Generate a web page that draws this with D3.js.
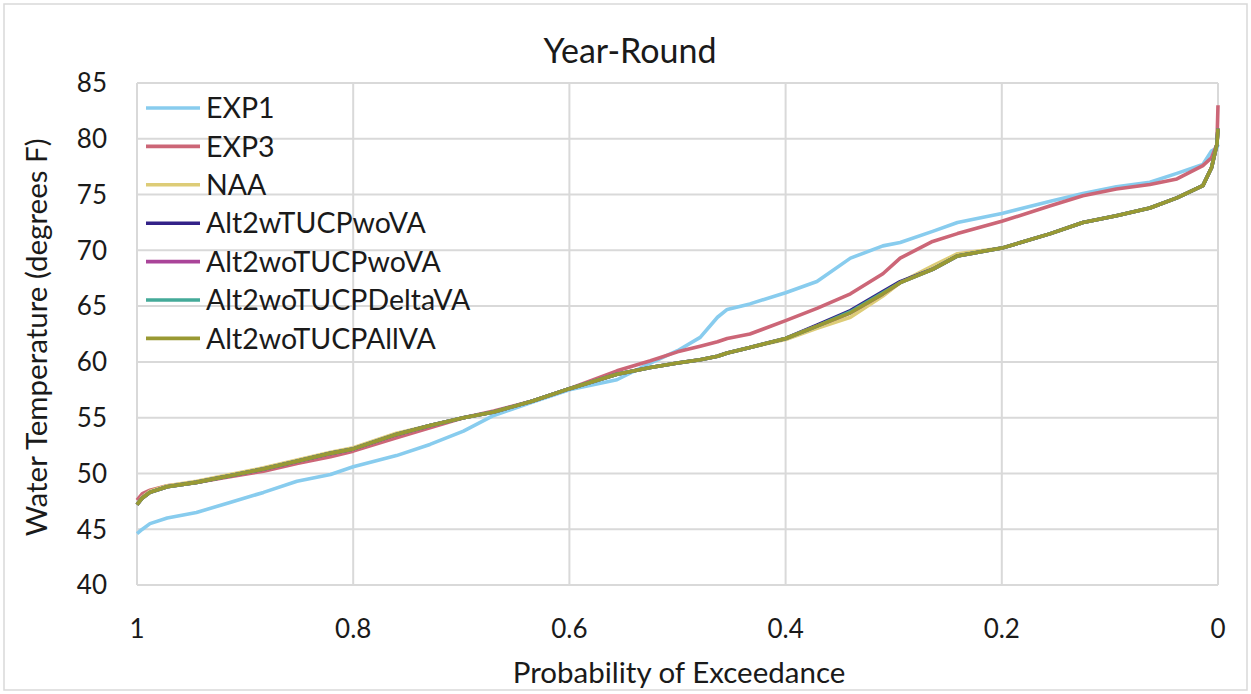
<!DOCTYPE html>
<html>
<head>
<meta charset="utf-8">
<script src="https://cdn.jsdelivr.net/npm/d3@7"></script>
<style>
  body { margin: 0; background: #fff; }
  svg { display: block; font-family: Lato, "Open Sans", sans-serif; }
</style>
</head>
<body>
<svg id="chart" width="1251" height="694"></svg>
<script>
// exceedance probabilities shared by every series
var probs = [1, 0.995, 0.988, 0.972, 0.945, 0.914, 0.883, 0.852, 0.821, 0.8, 0.76, 0.729, 0.698, 0.67, 0.634, 0.6,
  0.556, 0.525, 0.5, 0.479, 0.463, 0.454, 0.433, 0.4, 0.371, 0.34, 0.31, 0.294, 0.264, 0.241, 0.2, 0.155, 0.125,
  0.094, 0.063, 0.038, 0.014, 0.006, 0.001, 0];

var exp1 = [44.6, 45.0, 45.5, 46.0, 46.5, 47.4, 48.3, 49.3, 49.9, 50.6, 51.6, 52.6, 53.8, 55.2, 56.4, 57.5,
  58.4, 59.9, 61.0, 62.2, 64.0, 64.7, 65.2, 66.2, 67.2, 69.3, 70.4, 70.7, 71.7, 72.5, 73.3, 74.4, 75.1,
  75.7, 76.1, 76.9, 77.7, 78.9, 79.2, 79.5];
var exp3 = [47.6, 48.2, 48.5, 48.9, 49.2, 49.7, 50.2, 50.9, 51.5, 52.0, 53.2, 54.1, 55.0, 55.6, 56.5, 57.6,
  59.2, 60.1, 60.9, 61.4, 61.8, 62.1, 62.5, 63.7, 64.8, 66.1, 67.9, 69.3, 70.8, 71.5, 72.6, 74.0, 74.9,
  75.5, 75.9, 76.4, 77.6, 78.3, 79.5, 83.0];
var naa = [47.2, 47.9, 48.4, 48.9, 49.3, 49.9, 50.5, 51.2, 51.9, 52.3, 53.6, 54.3, 55.0, 55.5, 56.5, 57.6,
  58.9, 59.5, 59.9, 60.2, 60.5, 60.8, 61.3, 62.0, 63.0, 64.0, 65.9, 67.1, 68.6, 69.7, 70.2, 71.5, 72.5,
  73.1, 73.8, 74.7, 75.8, 77.4, 79.5, 80.9];
var alt2wTUCPwoVA = [47.2, 47.8, 48.3, 48.8, 49.2, 49.8, 50.4, 51.1, 51.8, 52.2, 53.5, 54.3, 55.0, 55.5, 56.5, 57.6,
  58.9, 59.5, 59.9, 60.2, 60.5, 60.8, 61.3, 62.1, 63.3, 64.6, 66.3, 67.2, 68.3, 69.5, 70.2, 71.5, 72.5,
  73.1, 73.8, 74.7, 75.8, 77.4, 79.5, 80.9];
var alt2woTUCPwoVA = [47.2, 47.8, 48.3, 48.8, 49.2, 49.8, 50.4, 51.1, 51.8, 52.2, 53.5, 54.3, 55.0, 55.5, 56.5, 57.6,
  58.9, 59.5, 59.9, 60.2, 60.5, 60.8, 61.3, 62.1, 63.2, 64.4, 66.1, 67.1, 68.3, 69.5, 70.2, 71.5, 72.5,
  73.1, 73.8, 74.7, 75.8, 77.4, 79.5, 80.9];
var alt2woTUCPDeltaVA = [47.2, 47.8, 48.3, 48.8, 49.2, 49.8, 50.4, 51.1, 51.8, 52.2, 53.5, 54.3, 55.0, 55.5, 56.5, 57.6,
  58.9, 59.5, 59.9, 60.2, 60.5, 60.8, 61.3, 62.1, 63.2, 64.5, 66.2, 67.1, 68.3, 69.5, 70.2, 71.5, 72.5,
  73.1, 73.8, 74.7, 75.8, 77.4, 79.5, 80.9];
var alt2woTUCPAllVA = [47.2, 47.8, 48.3, 48.8, 49.2, 49.8, 50.4, 51.1, 51.8, 52.2, 53.5, 54.3, 55.0, 55.5, 56.5, 57.6,
  58.9, 59.5, 59.9, 60.2, 60.5, 60.8, 61.3, 62.1, 63.2, 64.4, 66.1, 67.1, 68.3, 69.5, 70.2, 71.5, 72.5,
  73.1, 73.8, 74.7, 75.8, 77.4, 79.5, 80.9];

var seriesNames = ["EXP1", "EXP3", "NAA", "Alt2wTUCPwoVA", "Alt2woTUCPwoVA", "Alt2woTUCPDeltaVA", "Alt2woTUCPAllVA"];
var seriesValues = [exp1, exp3, naa, alt2wTUCPwoVA, alt2woTUCPwoVA, alt2woTUCPDeltaVA, alt2woTUCPAllVA];
var colors = ["#88CCEE", "#CC6677", "#DDCC77", "#332288", "#AA4499", "#44AA99", "#999933"];

var xTicks = [1, 0.8, 0.6, 0.4, 0.2, 0];
var yTicks = [40, 45, 50, 55, 60, 65, 70, 75, 80, 85];

var svg = d3.select("#chart");

// outer chart border
svg.append("rect")
  .attr("x", 4).attr("y", 4)
  .attr("width", 1243).attr("height", 686)
  .attr("fill", "none")
  .attr("stroke", "#d9d9d9")
  .attr("stroke-width", 1.5);

var x = d3.scaleLinear().domain([1, 0]).range([137, 1218]);
var y = d3.scaleLinear().domain([40, 85]).range([585, 83]);

// gridlines
svg.append("g").selectAll("line")
  .data(yTicks).enter().append("line")
  .attr("x1", x(1)).attr("x2", x(0))
  .attr("y1", function (d) { return y(d); })
  .attr("y2", function (d) { return y(d); })
  .attr("stroke", "#d9d9d9").attr("stroke-width", 2);

svg.append("g").selectAll("line")
  .data(xTicks).enter().append("line")
  .attr("x1", function (d) { return x(d); })
  .attr("x2", function (d) { return x(d); })
  .attr("y1", y(85)).attr("y2", y(40))
  .attr("stroke", "#d9d9d9").attr("stroke-width", 2);

// tick labels
svg.append("g").selectAll("text")
  .data(yTicks).enter().append("text")
  .attr("x", 107)
  .attr("y", function (d) { return y(d); })
  .attr("dy", "0.36em")
  .attr("text-anchor", "end")
  .attr("font-size", 26)
  .attr("fill", "#1a1a1a")
  .text(function (d) { return d; });

svg.append("g").selectAll("text")
  .data(xTicks).enter().append("text")
  .attr("x", function (d) { return x(d); })
  .attr("y", 638)
  .attr("text-anchor", "middle")
  .attr("font-size", 26)
  .attr("fill", "#1a1a1a")
  .text(function (d) { return d; });

// titles
svg.append("text")
  .attr("x", 630).attr("y", 63)
  .attr("text-anchor", "middle")
  .attr("font-size", 34)
  .attr("fill", "#1a1a1a")
  .text("Year-Round");

svg.append("text")
  .attr("x", 679).attr("y", 683)
  .attr("text-anchor", "middle")
  .attr("font-size", 29.5)
  .attr("fill", "#1a1a1a")
  .text("Probability of Exceedance");

svg.append("text")
  .attr("transform", "translate(47," + y(62.2) + ") rotate(-90)")
  .attr("text-anchor", "middle")
  .attr("font-size", 29.5)
  .attr("fill", "#1a1a1a")
  .text("Water Temperature (degrees F)");

// series lines
var line = d3.line()
  .x(function (d) { return x(d[0]); })
  .y(function (d) { return y(d[1]); });

svg.append("g").selectAll("path")
  .data(seriesValues).enter().append("path")
  .attr("d", function (vals) {
    return line(probs.map(function (p, i) { return [p, vals[i]]; }));
  })
  .attr("fill", "none")
  .attr("stroke", function (d, i) { return colors[i]; })
  .attr("stroke-width", 3.6)
  .attr("stroke-linejoin", "round");

// legend
var legend = svg.append("g").selectAll("g")
  .data(seriesNames).enter().append("g")
  .attr("transform", function (d, i) { return "translate(146," + (108 + i * 38.4) + ")"; });

legend.append("line")
  .attr("x1", 0).attr("x2", 54)
  .attr("stroke", function (d, i) { return colors[i]; })
  .attr("stroke-width", 3.6);

legend.append("text")
  .attr("x", 60)
  .attr("dy", "0.36em")
  .attr("font-size", 28.5)
  .attr("fill", "#1a1a1a")
  .text(function (d) { return d; });
</script>
</body>
</html>
